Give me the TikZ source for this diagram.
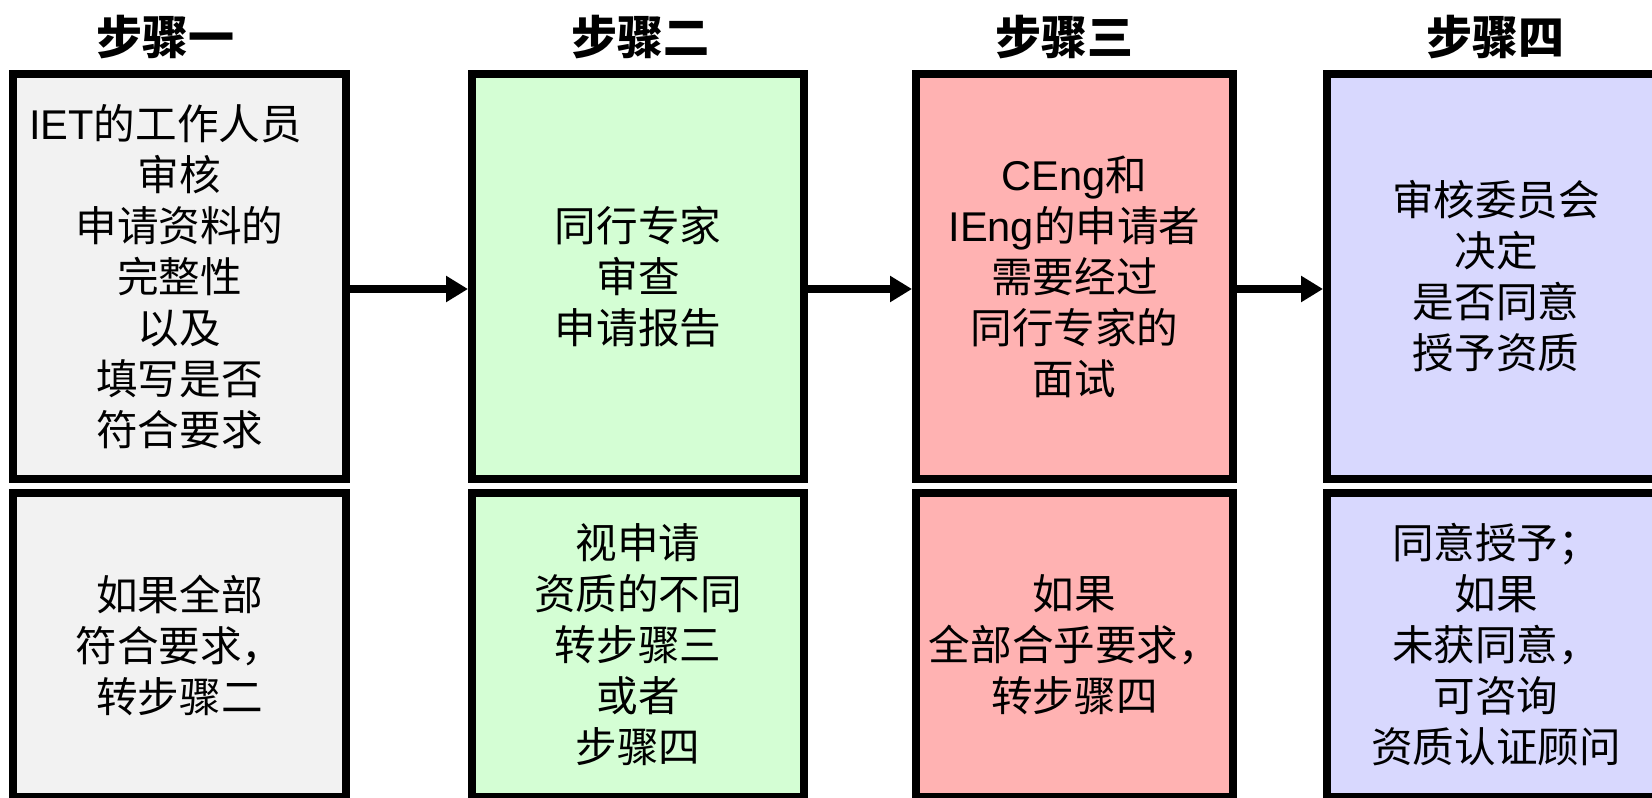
\documentclass[tikz,border=0pt]{standalone}
\usepackage{fontspec}
\setmainfont{Liberation Sans}
\newfontfamily\cjk{Noto Sans CJK SC}
\newfontfamily\latf{Liberation Sans}
\newcommand{\latinpart}[1]{{\latf #1}}
\usetikzlibrary{arrows.meta,calc}
\definecolor{boxgray}{HTML}{F2F2F2}
\definecolor{boxgreen}{HTML}{D4FED4}
\definecolor{boxpink}{HTML}{FFB2B2}
\definecolor{boxlav}{HTML}{D8D8FE}
\begin{document}
\begin{tikzpicture}[x=0.5pt,y=-0.5pt,
  stagebox/.style={draw=black, line width=4pt, inner sep=0pt, align=center,
    font=\cjk\fontsize{20.8pt}{25.5pt}\selectfont},
  toprow/.style={minimum height=202.5pt},
  botrow/.style={minimum height=152pt},
  colA/.style={minimum width=166.5pt, fill=boxgray},
  colB/.style={minimum width=166pt, fill=boxgreen},
  colC/.style={minimum width=158.5pt, fill=boxpink},
  colD/.style={minimum width=169pt, fill=boxlav},
  steptitle/.style={inner sep=0pt, font=\cjk\bfseries\fontsize{23pt}{27pt}\selectfont},
  flow/.style={line width=4pt, -{Triangle[length=11pt,width=12.5pt]}}]
\useasboundingbox (0,0) rectangle (1652,797);
\clip (0,0) rectangle (1652,797);
\fill[white] (0,0) rectangle (1652,797);

% titles
\node[steptitle] (t1) at (165,37.5) {步骤一};
\node[steptitle] (t2) at (640,37.5) {步骤二};
\node[steptitle] (t3) at (1064,37.5) {步骤三};
\node[steptitle] (t4) at (1495,37.5) {步骤四};

% top row
\node[stagebox,toprow,colA] (s1top) at (179.5,276.5)
  {\latinpart{IET}的工作人员\rule{14pt}{0pt}\\审核\\申请资料的\\完整性\\以及\\填写是否\\符合要求};
\node[stagebox,toprow,colB] (s2top) at (638,276.5)
  {同行专家\\审查\\申请报告};
\node[stagebox,toprow,colC] (s3top) at (1074.5,276.5)
  {\latinpart{CEng}和\\\latinpart{IEng}的申请者\\需要经过\\同行专家的\\面试};
\node[stagebox,toprow,colD] (s4top) at (1496,276.5)
  {审核委员会\\决定\\是否同意\\授予资质};

% bottom row
\node[stagebox,botrow,colA] (s1bot) at (179.5,645)
  {如果全部\\符合要求，\\转步骤二};
\node[stagebox,botrow,colB] (s2bot) at (638,645)
  {视申请\\资质的不同\\转步骤三\\或者\\步骤四};
\node[stagebox,botrow,colC] (s3bot) at (1074.5,645)
  {如果\\全部合乎要求，\\转步骤四};
\node[stagebox,botrow,colD] (s4bot) at (1496,645)
  {同意授予；\\如果\\未获同意，\\可咨询\\资质认证顾问};

% arrows
\draw[flow] ($(s1top.east)+(0,12.5)$) -- ($(s2top.west)+(0,12.5)$);
\draw[flow] ($(s2top.east)+(0,12.5)$) -- ($(s3top.west)+(0,12.5)$);
\draw[flow] ($(s3top.east)+(0,12.5)$) -- ($(s4top.west)+(0,12.5)$);
\end{tikzpicture}
\end{document}
